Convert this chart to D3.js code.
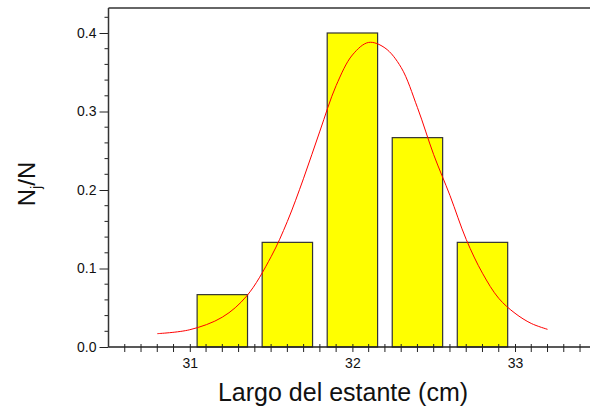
<!DOCTYPE html>
<html>
<head>
<meta charset="utf-8">
<script src="https://cdn.jsdelivr.net/npm/d3@7"></script>
<style>
  body { margin: 0; background: #fff; }
  text { font-family: "Liberation Sans", Arial, sans-serif; fill: #111; }
</style>
</head>
<body>
<script>
// Histogram bins (centre of each bar, in cm) and relative frequency Nj/N
var binCenters = [30.8, 31.2, 31.6, 32.0, 32.4, 32.8, 33.2];
var freqs = [0, 0.0667, 0.1333, 0.4, 0.2667, 0.1333, 0];
var barWidth = 0.31;

// Fitted curve, points
var fitX = [30.8, 31.0, 31.2, 31.35, 31.5, 31.6, 31.7, 31.8, 31.9, 32.0, 32.1, 32.2, 32.3, 32.4, 32.5, 32.6, 32.7, 32.8, 32.9, 33.0, 33.1, 33.2];
var fitY = [0.017, 0.022, 0.038, 0.065, 0.115, 0.160, 0.215, 0.275, 0.333, 0.372, 0.388, 0.381, 0.356, 0.305, 0.245, 0.193, 0.137, 0.094, 0.062, 0.043, 0.030, 0.0225];

var xMajor = [31, 32, 33];
var yMajor = [0, 0.1, 0.2, 0.3, 0.4];

var svgWidth = 590;
var svgHeight = 410;

var svg = d3.select("body")
  .append("svg")
  .attr("width", svgWidth)
  .attr("height", svgHeight);

// scales
var x = d3.scaleLinear().domain([30.5, 33]).range([108.5, 515]);
var y = d3.scaleLinear().domain([0, 0.4]).range([347, 33]);
var yTop = 0.432;
var xEnd = x.invert(svgWidth);

// bars
svg.append("g").selectAll("rect")
  .data(binCenters)
  .enter()
  .append("rect")
  .attr("x", d => x(d - barWidth / 2))
  .attr("width", d => x(d + barWidth / 2) - x(d - barWidth / 2))
  .attr("y", (d, i) => y(freqs[i]))
  .attr("height", (d, i) => y(0) - y(freqs[i]))
  .attr("fill", "#ffff00")
  .attr("stroke", "#333")
  .attr("stroke-width", 1.2);

// fitted curve
var line = d3.line()
  .x(d => x(d[0]))
  .y(d => y(d[1]))
  .curve(d3.curveCatmullRom);

svg.append("path")
  .datum(fitX.map((v, i) => [v, fitY[i]]))
  .attr("d", line)
  .attr("fill", "none")
  .attr("stroke", "#ff0000")
  .attr("stroke-width", 1);

// y axis
var leftAxis = d3.axisLeft(y)
  .tickValues(yMajor)
  .tickFormat(d3.format(".1f"))
  .tickSize(9)
  .tickPadding(3)
  .tickSizeOuter(0);

var yAxis = svg.append("g")
  .attr("transform", `translate(${x(30.5)},0)`)
  .call(leftAxis);
yAxis.select(".domain").remove();
yAxis.selectAll("text").style("font-size", "14px").attr("fill", "#111");
yAxis.selectAll("line").attr("stroke", "#222");

var yMinor = d3.range(0, 0.421, 0.02).filter(v => Math.abs(v * 10 - Math.round(v * 10)) > 1e-6);
svg.append("g").selectAll("line")
  .data(yMinor)
  .enter()
  .append("line")
  .attr("x1", x(30.5) - 4)
  .attr("x2", x(30.5))
  .attr("y1", d => y(d))
  .attr("y2", d => y(d))
  .attr("stroke", "#222");

// x axis
var bottomAxis = d3.axisBottom(x)
  .tickValues(xMajor)
  .tickFormat(d3.format("d"))
  .tickSizeOuter(0);

var xAxis = svg.append("g")
  .attr("transform", `translate(0,${y(0)})`)
  .call(bottomAxis);
xAxis.select(".domain").remove();
xAxis.selectAll("line").attr("y1", -3).attr("y2", 5).attr("stroke", "#222");
xAxis.selectAll("text")
  .attr("y", 11)
  .attr("dy", "0.71em")
  .style("font-size", "14px")
  .attr("fill", "#111");

var xMinor = d3.range(30.6, 33.45, 0.1).filter(v => Math.abs(v - Math.round(v)) > 1e-6);
svg.append("g").selectAll("line")
  .data(xMinor)
  .enter()
  .append("line")
  .attr("x1", d => x(d))
  .attr("x2", d => x(d))
  .attr("y1", y(0) - 3)
  .attr("y2", y(0) + 5)
  .attr("stroke", "#222");

// frame lines
svg.append("line")
  .attr("x1", x(30.5)).attr("x2", x(xEnd))
  .attr("y1", y(0)).attr("y2", y(0))
  .attr("stroke", "#222").attr("stroke-width", 1.3);
svg.append("line")
  .attr("x1", x(30.5)).attr("x2", x(xEnd))
  .attr("y1", y(yTop)).attr("y2", y(yTop))
  .attr("stroke", "#333").attr("stroke-width", 1.5);
svg.append("line")
  .attr("x1", x(30.5)).attr("x2", x(30.5))
  .attr("y1", y(yTop)).attr("y2", y(0))
  .attr("stroke", "#333").attr("stroke-width", 1.5);

// axis titles
svg.append("text")
  .attr("x", 343)
  .attr("y", 401)
  .attr("text-anchor", "middle")
  .style("font-size", "25px")
  .text("Largo del estante (cm)");

var yTitle = svg.append("text")
  .attr("transform", "translate(35,184) rotate(-90)")
  .attr("text-anchor", "middle")
  .style("font-size", "24px");
yTitle.append("tspan").text("N");
yTitle.append("tspan").attr("dy", 6).style("font-size", "14px").text("j");
yTitle.append("tspan").attr("dy", -6).text("/N");
</script>
</body>
</html>
